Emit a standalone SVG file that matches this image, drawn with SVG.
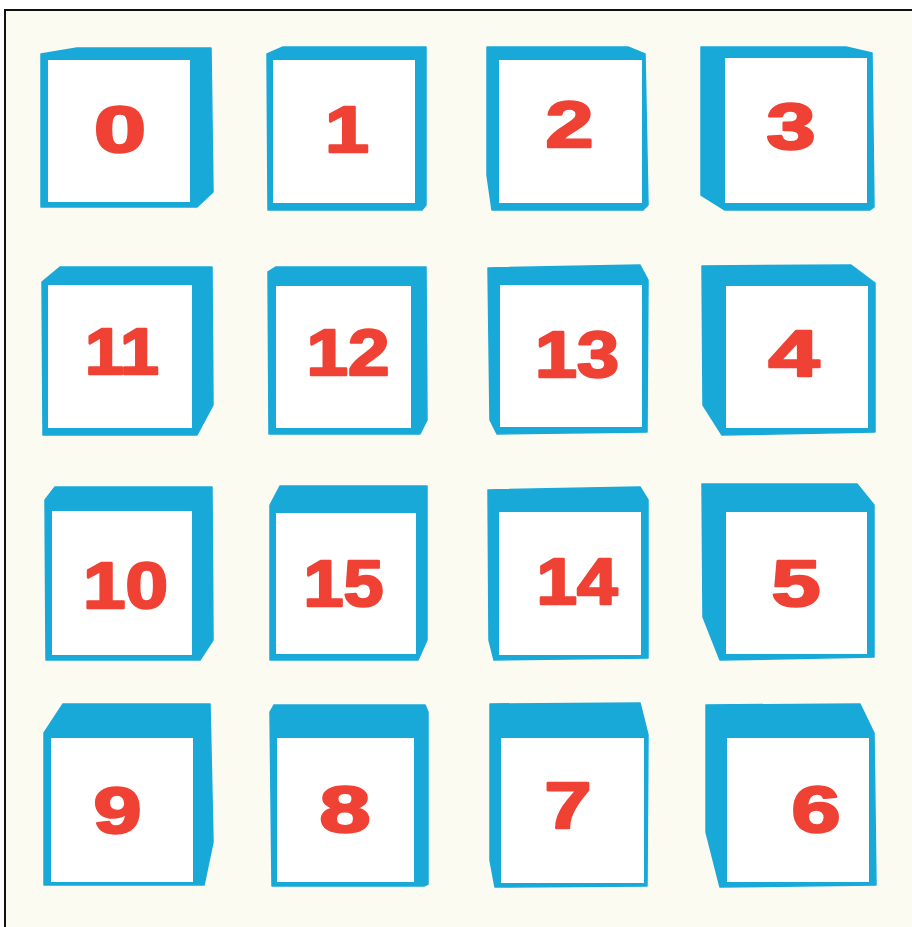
<svg xmlns="http://www.w3.org/2000/svg" width="912" height="927" viewBox="0 0 912 927">
  <style>
    .cube { fill: #19a9d9; stroke: #19a9d9; stroke-width: 1.5; stroke-linejoin: round; }
    .face { fill: #ffffff; }
    .num { font-family: "Liberation Sans", Arial, sans-serif; font-weight: bold; font-size: 65px; fill: #ef4134; stroke: #ef4134; stroke-width: 2.4; stroke-linejoin: round; text-anchor: middle; }
  </style>
  <rect x="0" y="0" width="912" height="927" fill="#ffffff"/>
  <rect x="5" y="10" width="907" height="917" fill="#fcfbf1"/>
  <path d="M5 927 V10 H912" fill="none" stroke="#111111" stroke-width="2"/>

  <g id="cube-0"><polygon class="cube" points="41,54 77,48 211,48 213,192 197,207 41,207"/><rect class="face" x="48" y="60" width="142" height="142"/><text class="num" x="120" y="152" textLength="52" lengthAdjust="spacingAndGlyphs">0</text></g>
  <g id="cube-1"><polygon class="cube" points="267,54 283,47 426,47 426,205 422,210 268,210"/><rect class="face" x="273" y="60" width="142" height="143"/><text class="num" x="347" y="152" textLength="44" lengthAdjust="spacingAndGlyphs">1</text></g>
  <g id="cube-2"><polygon class="cube" points="487,47 628,47 645,54 648,205 643,210 492,210 487,175"/><rect class="face" x="499" y="60" width="143" height="143"/><text class="num" x="569.5" y="147" textLength="48" lengthAdjust="spacingAndGlyphs">2</text></g>
  <g id="cube-3"><polygon class="cube" points="701,47 846,47 872,53 874,207 870,210 725,210 701,195"/><rect class="face" x="725" y="58" width="142" height="145"/><text class="num" x="791" y="149" textLength="49" lengthAdjust="spacingAndGlyphs">3</text></g>

  <g id="cube-11"><polygon class="cube" points="42,282 60,267 212,267 213,405 197,435 43,435"/><rect class="face" x="48" y="285" width="144" height="143"/><text class="num" x="122" y="374" textLength="74" lengthAdjust="spacingAndGlyphs">11</text></g>
  <g id="cube-12"><polygon class="cube" points="268,272 276,267 426,267 427,420 420,434 269,434"/><rect class="face" x="276" y="286" width="135" height="142"/><text class="num" x="348" y="375" textLength="83" lengthAdjust="spacingAndGlyphs">12</text></g>
  <g id="cube-13"><polygon class="cube" points="488,268 640,265 648,280 647,432 497,434 490,420"/><rect class="face" x="500" y="285" width="142" height="142"/><text class="num" x="577" y="377" textLength="84" lengthAdjust="spacingAndGlyphs">13</text></g>
  <g id="cube-4"><polygon class="cube" points="702,266 851,265 875,283 875,432 722,435 703,405"/><rect class="face" x="726" y="286" width="142" height="142"/><text class="num" x="794" y="376" textLength="51" lengthAdjust="spacingAndGlyphs">4</text></g>

  <g id="cube-10"><polygon class="cube" points="45,500 55,487 212,487 213,640 200,660 46,660"/><rect class="face" x="52" y="511" width="140" height="144"/><text class="num" x="125.5" y="608" textLength="85" lengthAdjust="spacingAndGlyphs">10</text></g>
  <g id="cube-15"><polygon class="cube" points="270,505 280,486 427,486 427,640 418,660 270,660"/><rect class="face" x="276" y="513" width="140" height="141"/><text class="num" x="343.5" y="606" textLength="80" lengthAdjust="spacingAndGlyphs">15</text></g>
  <g id="cube-14"><polygon class="cube" points="488,490 640,487 648,500 648,658 494,660 489,640"/><rect class="face" x="499" y="512" width="142" height="143"/><text class="num" x="577" y="604" textLength="81" lengthAdjust="spacingAndGlyphs">14</text></g>
  <g id="cube-5"><polygon class="cube" points="702,484 857,484 874,505 874,657 720,660 703,617"/><rect class="face" x="726" y="512" width="141" height="142"/><text class="num" x="796" y="606" textLength="49" lengthAdjust="spacingAndGlyphs">5</text></g>

  <g id="cube-9"><polygon class="cube" points="44,733 63,704 210,704 213,842 204,885 44,885"/><rect class="face" x="51" y="738" width="142" height="144"/><text class="num" x="117.5" y="833" textLength="48" lengthAdjust="spacingAndGlyphs">9</text></g>
  <g id="cube-8"><polygon class="cube" points="270,712 274,705 425,705 428,712 428,884 424,886 272,886"/><rect class="face" x="277" y="738" width="137" height="144"/><text class="num" x="345" y="832" textLength="51" lengthAdjust="spacingAndGlyphs">8</text></g>
  <g id="cube-7"><polygon class="cube" points="490,704 640,703 648,735 647,886 495,887 490,860"/><rect class="face" x="501" y="738" width="143" height="145"/><text class="num" x="568" y="828" textLength="47" lengthAdjust="spacingAndGlyphs">7</text></g>
  <g id="cube-6"><polygon class="cube" points="706,705 860,704 874,733 876,885 720,887 706,832"/><rect class="face" x="727" y="738" width="142" height="144"/><text class="num" x="816" y="832" textLength="49" lengthAdjust="spacingAndGlyphs">6</text></g>

  <g id="connectors"></g>
</svg>
